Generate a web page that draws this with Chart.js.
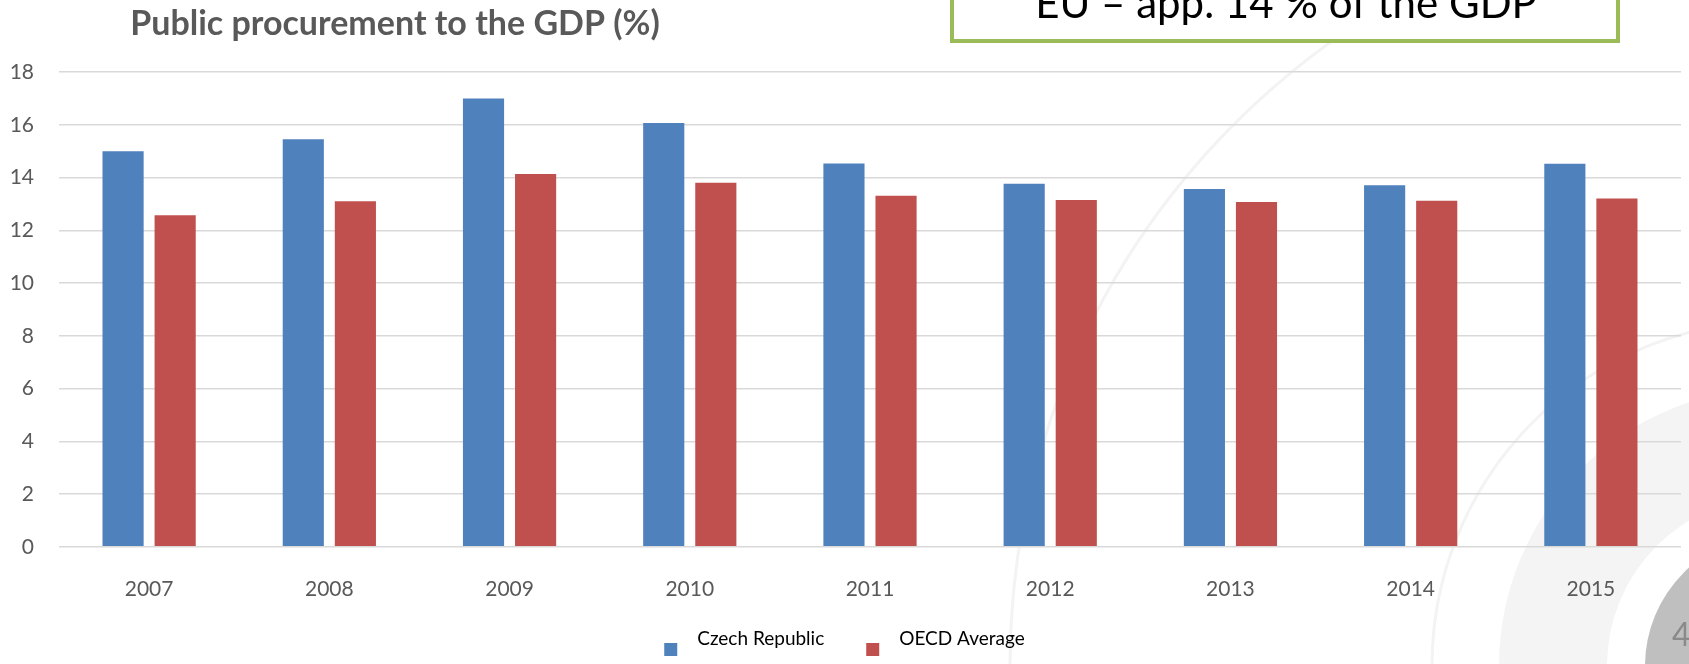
<!DOCTYPE html>
<html>
<head>
<meta charset="utf-8">
<title>Public procurement to the GDP (%)</title>
<script src="https://cdn.jsdelivr.net/npm/chart.js@4.4.1/dist/chart.umd.min.js"></script>
<style>
    html, body { margin: 0; padding: 0; background: #ffffff; }
    #wrap { width: 1689px; height: 664px; overflow: hidden; }
</style>
</head>
<body>
<div id="wrap">
    <canvas id="gdpChart" width="1689" height="664"></canvas>
</div>
<script>
// Chart data
const years = ['2007', '2008', '2009', '2010', '2011', '2012', '2013', '2014', '2015'];
const czechRepublic = [15.0, 15.45, 17.0, 16.07, 14.53, 13.76, 13.56, 13.71, 14.52];
const oecdAverage = [12.57, 13.1, 14.13, 13.8, 13.31, 13.15, 13.07, 13.12, 13.2];
const seriesNames = ['Czech Republic', 'OECD Average'];
const yMin = 0;
const yMax = 18;
const yStep = 2;

const chartTitle = 'Public procurement to the GDP (%)';
const noteText = 'EU \u2013 app. 14 % of the GDP';
const slideNumber = '4';

const FONT = 'Lato, "Open Sans", sans-serif';

// slide decoration behind the chart (rings in the lower right corner)
const slideBackground = {
    id: 'slideBackground',
    beforeDraw(chart) {
        const ctx = chart.ctx;
        const cx = 1777, cy = 666;
        ctx.save();
        ctx.fillStyle = '#ffffff';
        ctx.fillRect(0, 0, chart.width, chart.height);

        // light band
        ctx.beginPath();
        ctx.arc(cx, cy, 278, 0, Math.PI * 2);
        ctx.arc(cx, cy, 170, 0, Math.PI * 2, true);
        ctx.fillStyle = '#f4f4f4';
        ctx.fill();

        // thin rings
        ctx.lineWidth = 3;
        ctx.strokeStyle = '#f3f3f3';
        ctx.beginPath();
        ctx.arc(cx, cy, 767, 0, Math.PI * 2);
        ctx.stroke();
        ctx.beginPath();
        ctx.arc(cx, cy, 345, 0, Math.PI * 2);
        ctx.stroke();

        // page number disc
        ctx.beginPath();
        ctx.arc(cx, cy, 132, 0, Math.PI * 2);
        ctx.fillStyle = '#bfbfbf';
        ctx.fill();
        ctx.fillStyle = '#8a8a8a';
        ctx.font = '32px ' + FONT;
        ctx.textBaseline = 'alphabetic';
        ctx.textAlign = 'left';
        ctx.fillText(slideNumber, 1672, 646);
        ctx.restore();
    }
};

// title, note box and excel-like legend
const slideOverlay = {
    id: 'slideOverlay',
    afterDraw(chart) {
        const ctx = chart.ctx;
        ctx.save();

        // title
        ctx.fillStyle = '#595959';
        ctx.font = 'bold 34px ' + FONT;
        ctx.textAlign = 'center';
        ctx.textBaseline = 'alphabetic';
        ctx.fillText(chartTitle, 395, 35);

        // green note box (top is cut by the slide edge)
        ctx.fillStyle = '#ffffff';
        ctx.fillRect(952, -20, 666, 61);
        ctx.strokeStyle = '#9bbb59';
        ctx.lineWidth = 4;
        ctx.strokeRect(952, -20, 666, 61);
        ctx.fillStyle = '#000000';
        ctx.font = '42px ' + FONT;
        ctx.fillText(noteText, 1286, 18);

        // legend
        ctx.font = '19px ' + FONT;
        ctx.textAlign = 'left';
        const box = 13, gap = 20, itemGap = 42;
        const items = chart.data.datasets.map(ds => ({
            label: ds.label,
            color: ds.backgroundColor,
            w: ctx.measureText(ds.label).width
        }));
        let total = items.reduce((s, it) => s + box + gap + it.w, 0) + itemGap * (items.length - 1);
        let x = chart.width / 2 - total / 2;
        items.forEach(it => {
            ctx.fillStyle = it.color;
            ctx.fillRect(x, 643, box, box);
            ctx.fillStyle = '#000000';
            ctx.fillText(it.label, x + box + gap, 645);
            x += box + gap + it.w + itemGap;
        });
        ctx.restore();
    }
};

const ctx = document.getElementById('gdpChart').getContext('2d');
const chart = new Chart(ctx, {
    type: 'bar',
    data: {
        labels: years,
        datasets: [
            {
                label: seriesNames[0],
                data: czechRepublic,
                backgroundColor: '#4f81bd',
                categoryPercentage: 0.578,
                barPercentage: 0.79
            },
            {
                label: seriesNames[1],
                data: oecdAverage,
                backgroundColor: '#c0504d',
                categoryPercentage: 0.578,
                barPercentage: 0.79
            }
        ]
    },
    options: {
        responsive: false,
        animation: false,
        devicePixelRatio: 1,
        layout: {
            padding: { left: 0, right: 8, top: 72, bottom: 40 }
        },
        scales: {
            x: {
                grid: { display: false },
                border: { display: false },
                ticks: {
                    color: '#595959',
                    font: { family: FONT, size: 21 },
                    padding: 22,
                    maxRotation: 0
                }
            },
            y: {
                min: yMin,
                max: yMax,
                grid: {
                    color: '#d9d9d9',
                    lineWidth: 1.5,
                    drawTicks: false
                },
                border: { display: false },
                ticks: {
                    stepSize: yStep,
                    color: '#595959',
                    font: { family: FONT, size: 21 },
                    padding: 25
                },
                afterFit(axis) {
                    axis.width = 59;
                }
            }
        },
        plugins: {
            legend: { display: false },
            title: { display: false },
            tooltip: { enabled: false }
        }
    },
    plugins: [slideBackground, slideOverlay]
});
</script>
</body>
</html>
